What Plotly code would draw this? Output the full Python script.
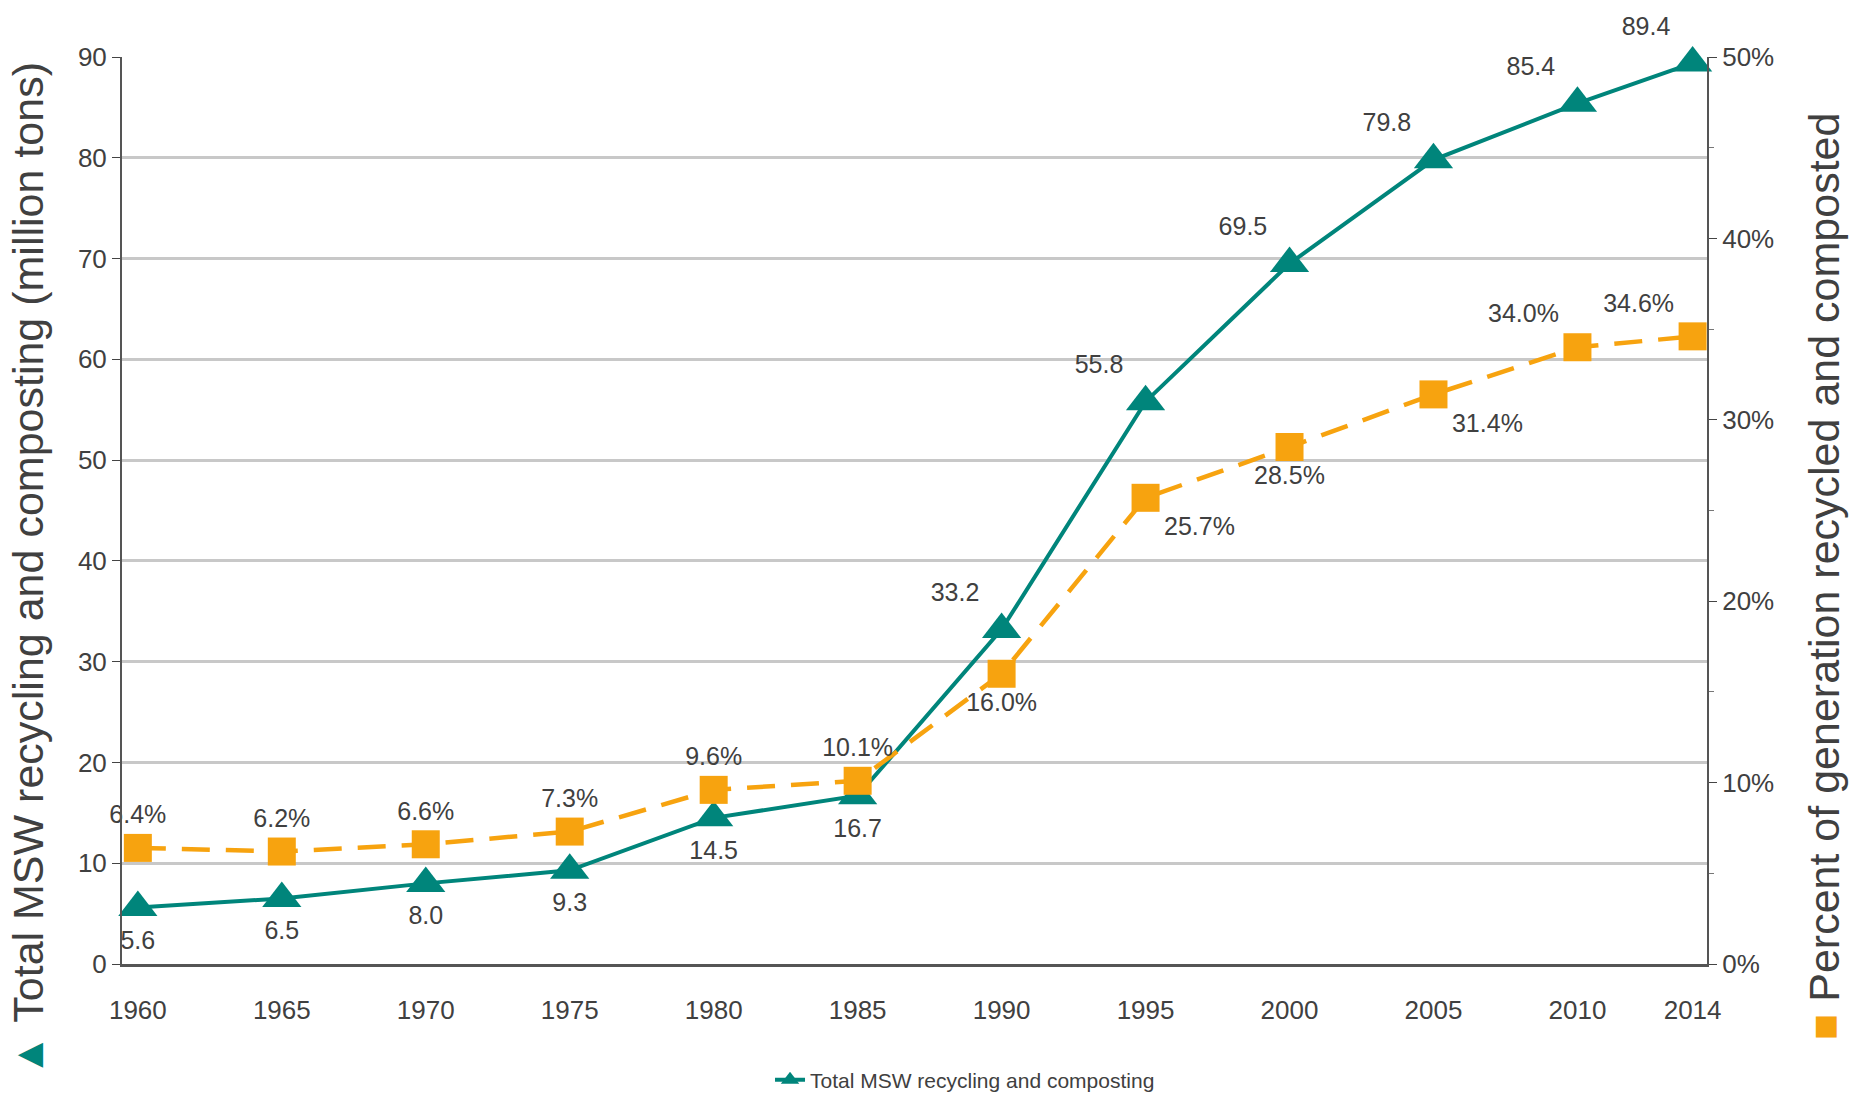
import plotly.graph_objects as go

years = [1960, 1965, 1970, 1975, 1980, 1985, 1990, 1995, 2000, 2005, 2010, 2014]
tons = [5.6, 6.5, 8.0, 9.3, 14.5, 16.7, 33.2, 55.8, 69.5, 79.8, 85.4, 89.4]
pct = [6.4, 6.2, 6.6, 7.3, 9.6, 10.1, 16.0, 25.7, 28.5, 31.4, 34.0, 34.6]
tons_labels = ["5.6", "6.5", "8.0", "9.3", "14.5", "16.7", "33.2", "55.8", "69.5", "79.8", "85.4", "89.4"]
pct_labels = ["6.4%", "6.2%", "6.6%", "7.3%", "9.6%", "10.1%", "16.0%", "25.7%", "28.5%", "31.4%", "34.0%", "34.6%"]
tick_text = [str(y) for y in years]

TEAL = "#00857B"
ORANGE = "#F7A30F"
TXT = "#404040"
FONT = "Liberation Sans, Arial, sans-serif"

tons_pos = ["bottom center"] * 6 + ["top left"] * 6
pct_pos = ["top center"] * 6 + ["bottom center", "bottom right", "bottom center",
                                 "bottom right", "top left", "top left"]

fig = go.Figure()
fig.add_trace(go.Scatter(
    x=years, y=pct, yaxis="y2", mode="lines+markers+text",
    line=dict(color=ORANGE, width=4.5, dash="28px,16px"),
    marker=dict(symbol="square", size=28, color=ORANGE),
    text=pct_labels, textposition=pct_pos, cliponaxis=False,
    textfont=dict(family=FONT, size=25, color=TXT),
    showlegend=False, name="Percent of generation recycled and composted"))
fig.add_trace(go.Scatter(
    x=years, y=tons, mode="lines+markers+text",
    line=dict(color=TEAL, width=4),
    marker=dict(symbol="triangle-up", size=34, color=TEAL),
    text=tons_labels, textposition=tons_pos, cliponaxis=False,
    textfont=dict(family=FONT, size=25, color=TXT),
    name="Total MSW recycling and composting", showlegend=True))

fig.update_layout(
    width=1851, height=1098,
    margin=dict(l=122, r=144, t=57, b=134, autoexpand=False),
    paper_bgcolor="white", plot_bgcolor="white",
    font=dict(family=FONT, color=TXT),
    xaxis=dict(
        range=[1959.45, 2014.5], tickvals=years, ticktext=tick_text,
        showgrid=False, zeroline=False, showline=True, linecolor="#555555", linewidth=3,
        ticks="outside", ticklen=21, tickcolor="rgba(0,0,0,0)",
        tickfont=dict(family=FONT, size=26, color=TXT)),
    yaxis=dict(
        range=[0, 90], dtick=10, showgrid=True, gridcolor="#c8c8c8", gridwidth=3,
        zeroline=False, showline=True, linecolor="#555555", linewidth=2,
        ticks="outside", ticklen=8, tickcolor="#444444",
        tickfont=dict(family=FONT, size=26, color=TXT)),
    yaxis2=dict(
        range=[0, 50], dtick=10, ticksuffix="%", overlaying="y", side="right",
        showgrid=False, zeroline=False, showline=True, linecolor="#555555", linewidth=2,
        ticks="outside", ticklen=8, tickcolor="#444444",
        minor=dict(ticks="outside", ticklen=5, dtick=5, tickcolor="#777777"),
        tickfont=dict(family=FONT, size=26, color=TXT)),
    legend=dict(orientation="h", xref="container", yref="container",
                x=0.416, xanchor="left", y=0.0164, yanchor="middle",
                font=dict(family=FONT, size=21, color=TXT), bgcolor="rgba(0,0,0,0)"),
    annotations=[
        dict(text=f"<span style='color:{TEAL}'>▲</span> Total MSW recycling and composting (million tons)",
             textangle=-90, xref="paper", yref="paper", x=0, y=0.435, xshift=-94,
             xanchor="center", yanchor="middle", showarrow=False,
             font=dict(family=FONT, size=43, color=TXT)),
        dict(text=f"<span style='color:{ORANGE}'>■</span> Percent of generation recycled and composted",
             textangle=-90, xref="paper", yref="paper", x=1, y=0.427, xshift=117,
             xanchor="center", yanchor="middle", showarrow=False,
             font=dict(family=FONT, size=43, color=TXT)),
    ],
)

fig.write_html("out.html", config={"displayModeBar": False},
               post_script="document.body.style.margin='0';document.body.style.overflow='hidden';")
